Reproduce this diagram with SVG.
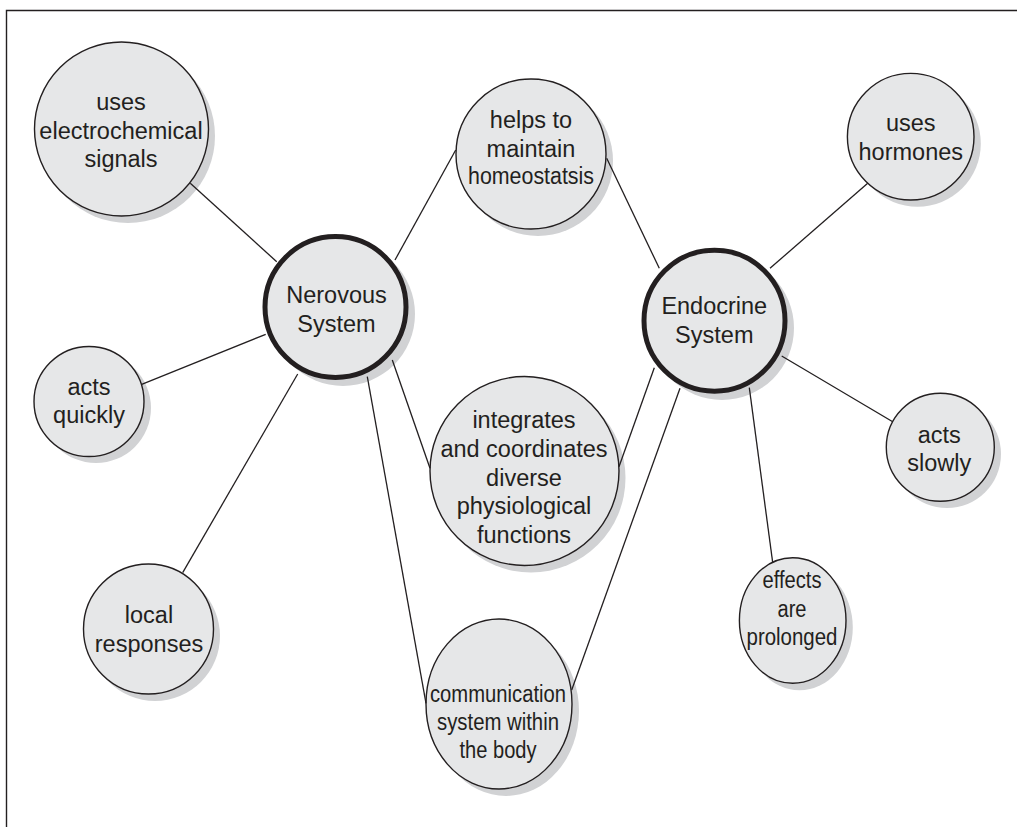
<svg xmlns="http://www.w3.org/2000/svg" width="1017" height="827" viewBox="0 0 1017 827">
<style>
.sh{fill:#d1d2d4}
.nd{fill:#e6e7e8;stroke:#231f20;stroke-width:1.4}
.main{fill:#e6e7e8;stroke:#231f20;stroke-width:5}
.t{font-family:"Liberation Sans",Arial,sans-serif;font-size:23.5px;fill:#231f20;text-anchor:middle}
.c line{stroke:#231f20;stroke-width:1.3}
</style>
<rect width="1017" height="827" fill="#fff"/>
<path d="M6.5,827 V10.5 H1017" fill="none" stroke="#231f20" stroke-width="1.4"/>

<g id="n-electro">
<circle class="sh" cx="128" cy="136" r="87"/>
<circle class="nd" cx="121.5" cy="129" r="87"/>
<text class="t" x="121" y="110">uses</text>
<text class="t" x="121" y="138.5">electrochemical</text>
<text class="t" x="121" y="166.5">signals</text>
</g>
<g id="n-quickly">
<circle class="sh" cx="96" cy="408" r="55"/>
<circle class="nd" cx="89" cy="401.5" r="55"/>
<text class="t" x="89" y="395">acts</text>
<text class="t" x="89" y="423">quickly</text>
</g>
<g id="n-local">
<circle class="sh" cx="155" cy="636" r="65"/>
<circle class="nd" cx="148.5" cy="629" r="65"/>
<text class="t" x="149" y="622.5">local</text>
<text class="t" x="149" y="651.5">responses</text>
</g>
<g id="n-nervous">
<circle class="sh" cx="343" cy="314" r="72"/>
<circle class="main" cx="335.5" cy="307" r="70.5"/>
<text class="t" x="336.5" y="302.7">Nerovous</text>
<text class="t" x="336.5" y="331.7">System</text>
</g>
<g id="n-homeo">
<circle class="sh" cx="538" cy="161" r="75"/>
<circle class="nd" cx="531" cy="154" r="75"/>
<text class="t" x="531" y="128.3">helps to</text>
<text class="t" x="531" y="156.7">maintain</text>
<text class="t" x="531" y="184.3" textLength="126" lengthAdjust="spacingAndGlyphs">homeostatsis</text>
</g>
<g id="n-integrates">
<circle class="sh" cx="531" cy="478" r="94.5"/>
<circle class="nd" cx="524.5" cy="471" r="94.5"/>
<text class="t" x="524" y="427.7">integrates</text>
<text class="t" x="524" y="456.7">and coordinates</text>
<text class="t" x="524" y="485.7">diverse</text>
<text class="t" x="524" y="514">physiological</text>
<text class="t" x="524" y="543.3">functions</text>
</g>
<g id="n-comm">
<ellipse class="sh" cx="506" cy="711" rx="73" ry="85"/>
<ellipse class="nd" cx="499" cy="704" rx="73" ry="85"/>
<text class="t" x="498" y="701.7" textLength="136" lengthAdjust="spacingAndGlyphs">communication</text>
<text class="t" x="498" y="730" textLength="122" lengthAdjust="spacingAndGlyphs">system within</text>
<text class="t" x="498" y="758.3" textLength="77" lengthAdjust="spacingAndGlyphs">the body</text>
</g>
<g id="n-endocrine">
<circle class="sh" cx="722" cy="328" r="72"/>
<circle class="main" cx="714.5" cy="320.7" r="70.5"/>
<text class="t" x="714.3" y="314.3">Endocrine</text>
<text class="t" x="714.3" y="342.7">System</text>
</g>
<g id="n-hormones">
<circle class="sh" cx="917.5" cy="143.5" r="63.3"/>
<circle class="nd" cx="910.7" cy="136.7" r="63.3"/>
<text class="t" x="910.8" y="131">uses</text>
<text class="t" x="910.8" y="160">hormones</text>
</g>
<g id="n-slowly">
<circle class="sh" cx="947" cy="454" r="54"/>
<circle class="nd" cx="940.3" cy="447.3" r="54"/>
<text class="t" x="939.3" y="442.7">acts</text>
<text class="t" x="939.3" y="471">slowly</text>
</g>
<g id="n-prolonged">
<ellipse class="sh" cx="799.5" cy="627.5" rx="53.3" ry="62.8"/>
<ellipse class="nd" cx="792.7" cy="620.5" rx="53.3" ry="62.8"/>
<text class="t" x="792" y="587.7" textLength="59" lengthAdjust="spacingAndGlyphs">effects</text>
<text class="t" x="792" y="616.7" textLength="29" lengthAdjust="spacingAndGlyphs">are</text>
<text class="t" x="792" y="645" textLength="91" lengthAdjust="spacingAndGlyphs">prolonged</text>
</g>

<g id="connectors" class="c">
<line x1="190.3" y1="183.3" x2="276.7" y2="261.7"/>
<line x1="141.7" y1="384.3" x2="265.7" y2="334.3"/>
<line x1="182.7" y1="572.7" x2="297.7" y2="374"/>
<line x1="395" y1="260" x2="455.7" y2="150"/>
<line x1="606.7" y1="158.3" x2="659.3" y2="268.3"/>
<line x1="392.3" y1="360" x2="430" y2="468.3"/>
<line x1="619" y1="466.7" x2="654.3" y2="367.7"/>
<line x1="367.3" y1="376.7" x2="426" y2="703.3"/>
<line x1="571.7" y1="690" x2="680" y2="388.3"/>
<line x1="770" y1="268.3" x2="867.7" y2="183.3"/>
<line x1="781.7" y1="356" x2="892.7" y2="421.7"/>
<line x1="749.3" y1="387.7" x2="772.7" y2="562.7"/>
</g>
</svg>
